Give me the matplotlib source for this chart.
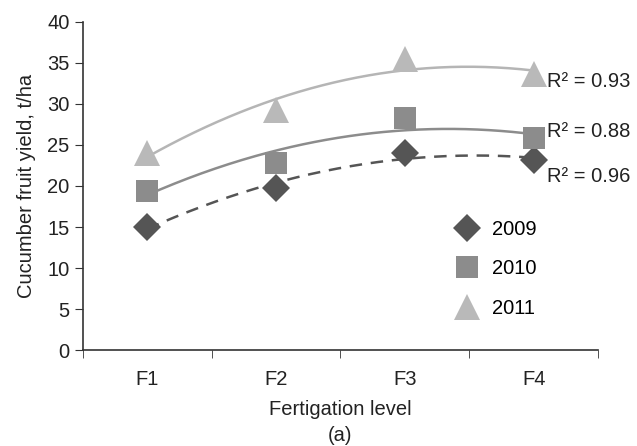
import numpy as np
import matplotlib
matplotlib.use("Agg")
import matplotlib.pyplot as plt

plt.rcParams['font.family'] = ['Liberation Sans', 'DejaVu Sans']

categories = ["F1", "F2", "F3", "F4"]
y2009 = [15.0, 19.7, 24.0, 23.2]
y2010 = [19.4, 22.8, 28.3, 25.8]
y2011 = [24.0, 29.2, 35.5, 33.6]
r2_labels = ["R² = 0.96", "R² = 0.88", "R² = 0.93"]
yticks = [0, 5, 10, 15, 20, 25, 30, 35, 40]

FS = 14.5
fig = plt.figure(figsize=(6.37, 4.46), dpi=100)
ax = fig.add_axes([0.130, 0.215, 0.809, 0.736])

x = np.arange(1, len(categories) + 1)
series = [
    ("2009", y2009, "D", "#555555", "#555555", (0, (5, 3.5)), 14),
    ("2010", y2010, "s", "#8c8c8c", "#8c8c8c", "-", 16),
    ("2011", y2011, "^", "#b9b9b9", "#b5b5b5", "-", 19),
]
xs = np.linspace(1, 4, 200)
label_y = [21.1, 26.6, 32.7]
for (name, ys, m, mc, lc, ls, ms), ly, rl in zip(series, label_y, r2_labels):
    c = np.polyfit(x, ys, 2)
    ax.plot(xs, np.polyval(c, xs), color=lc, ls=ls, lw=1.8, zorder=2)
    ax.plot(x, ys, ls="none", marker=m, color=mc, markersize=ms,
            markeredgewidth=0, label=name, zorder=3)
    ax.text(4.1, ly, rl, fontsize=FS, va="center", ha="left", color="#222222")

ax.set_xlim(0.5, 4.5)
ax.set_ylim(0, 40)
ax.set_yticks(yticks)
ax.set_xticks(x)
ax.set_xticklabels(categories)
ax.set_xticks([0.5, 1.5, 2.5, 3.5, 4.5], minor=True)
ax.tick_params(axis="x", which="major", length=0, pad=14, labelsize=FS, labelcolor="#222222")
ax.tick_params(axis="x", which="minor", length=6, direction="out", color="#333333")
ax.tick_params(axis="y", length=6, direction="out", labelsize=FS, labelcolor="#222222", color="#333333")
for s in ["top", "right"]:
    ax.spines[s].set_visible(False)
for s in ["left", "bottom"]:
    ax.spines[s].set_color("#333333")
    ax.spines[s].set_linewidth(1.2)

ax.set_ylabel("Cucumber fruit yield, t/ha", fontsize=FS, color="#222222", labelpad=8)
ax.set_xlabel("Fertigation level\n(a)", fontsize=FS, color="#222222", labelpad=8, linespacing=1.5)

ax.legend(loc="upper left", bbox_to_anchor=(0.70, 0.42), frameon=False,
          fontsize=FS, handletextpad=0.5, labelspacing=1.0, borderaxespad=0,
          handlelength=1.5)

fig.savefig("out.png", dpi=100)
